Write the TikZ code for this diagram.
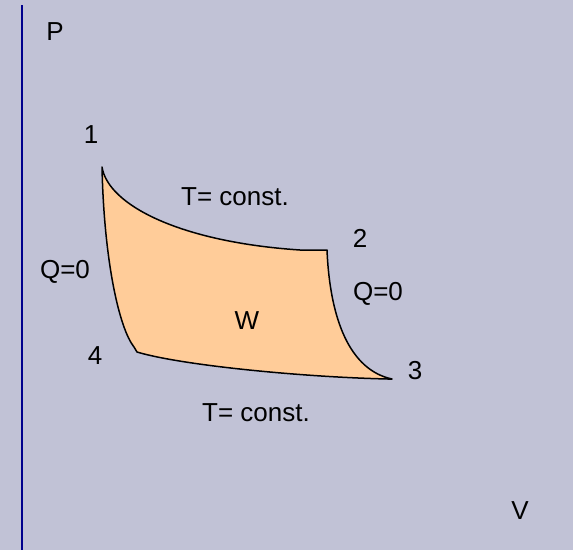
\documentclass[tikz,border=0pt]{standalone}
\usepackage{fontspec}
\setmainfont{Liberation Sans}
\usepackage{xcolor}
\usetikzlibrary{positioning}
\definecolor{bgcol}{RGB}{193,194,214}
\definecolor{fillcol}{RGB}{255,204,153}
\definecolor{axiscol}{RGB}{0,0,140}
\begin{document}
\begin{tikzpicture}[x=1pt, y=-1pt, every node/.style={font=\fontsize{26}{30}\selectfont, inner sep=0pt}, lbl/.style={anchor=center}, cycleline/.style={draw=black, line width=1.5pt, fill=fillcol, line join=round}]
% background and frame
\fill[bgcol] (0,0) rectangle (573,550);
\useasboundingbox (0,0) rectangle (573,550);
\coordinate (ytop) at (21.5,5);
\coordinate (ybot) at (21.5,550);
\draw[axiscol, line width=2pt] (ytop) -- (ybot);
% state points
\coordinate (p1) at (102,167);
\coordinate (p2) at (327,250);
\coordinate (p3) at (392,379);
\coordinate (p4) at (134,347);
% cycle
\path[cycleline] (p1) .. controls (108,205) and (180,242) .. (300,250) -- (p2)
  .. controls (330,320) and (350,370) .. (p3) -- (388,379)
  .. controls (300,377) and (180,365) .. (137,352) -- (p4)
  .. controls (119,328) and (104,260) .. (p1) -- cycle;
% labels
\node[lbl] (lp) at (55,32) {P};
\node[lbl] (lv) at (520,511) {V};
\node[lbl] (l1) at (91,135) {1};
\node[lbl] (l2) at (360,238) {2};
\node[lbl] (l3) at (415,371) {3};
\node[lbl] (l4) at (95,356) {4};
\node[lbl] (tup) at (235,197) {T= const.};
\node[lbl] (tdown) at (256,413) {T= const.};
\node[lbl] (qright) at (378,294) {Q=0};
\node[lbl] (qleft) at (65,272) {Q=0};
\node[lbl] (w) at (247,321) {W};
\end{tikzpicture}
\end{document}
